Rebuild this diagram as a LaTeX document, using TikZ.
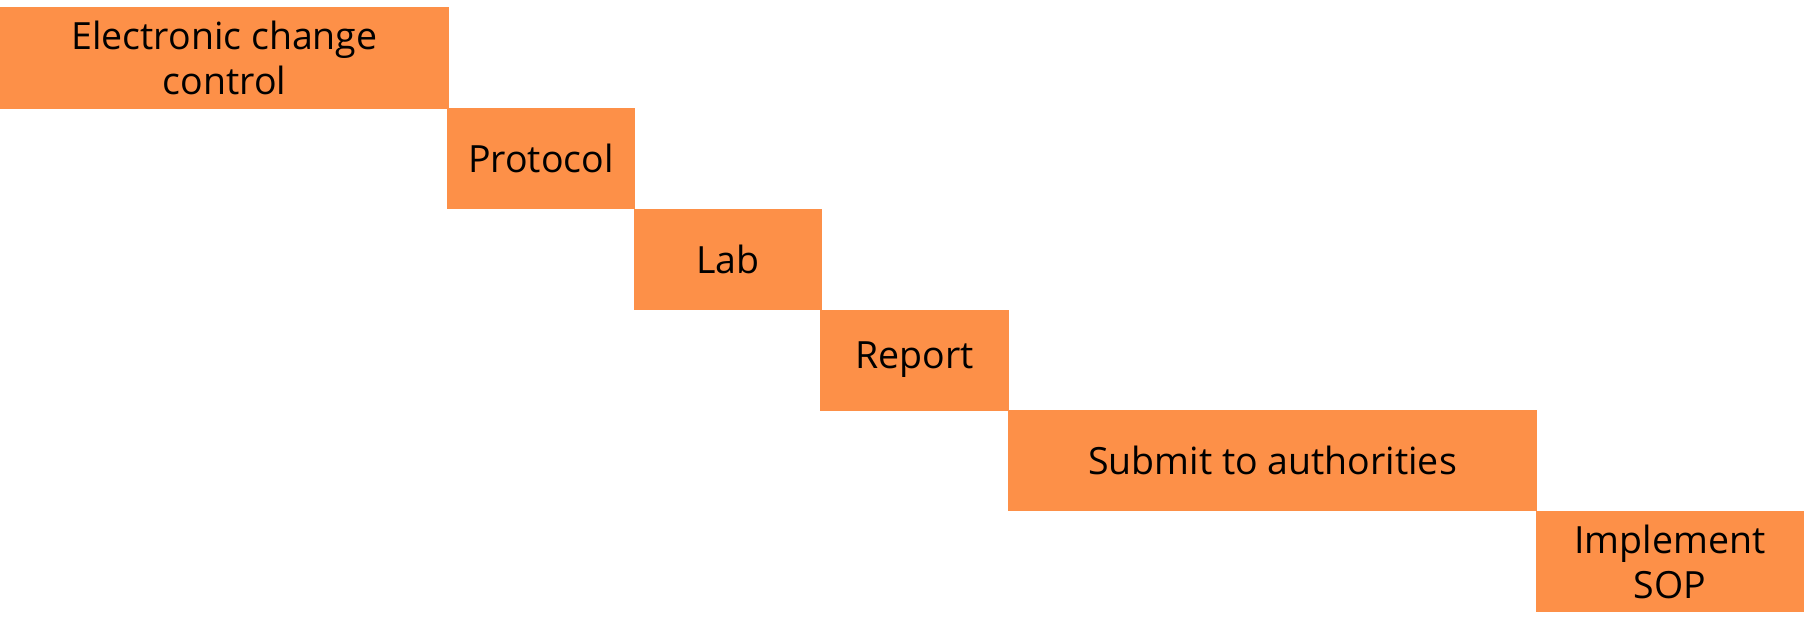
\documentclass[tikz,border=0pt]{standalone}
\usepackage{fontspec}
\setmainfont{Open Sans}
\definecolor{boxorange}{RGB}{253,144,72}
\begin{document}
\begin{tikzpicture}[x=1pt,y=-1pt,
  stage/.style={fill=boxorange, draw=none, inner sep=0pt, outer sep=0pt, anchor=north west,
    align=center, text=black, font=\fontsize{37.5}{45}\selectfont}]
\useasboundingbox (0,0) rectangle (1804,629);
\node[stage, minimum width=449pt, minimum height=102pt] (n1) at (0,7) {Electronic change\\control};
\node[stage, minimum width=188pt, minimum height=101pt] (n2) at (447,108) {Protocol};
\node[stage, minimum width=188pt, minimum height=101pt] (n3) at (634,208.5) {Lab};
\node[stage, minimum width=189pt, minimum height=101pt] (n4) at (820,309.5) {Report};
\node[stage, minimum width=529pt, minimum height=101pt] (n5) at (1008,410) {Submit to authorities};
\node[stage, minimum width=268pt, minimum height=101pt] (n6) at (1536,511) {Implement\\SOP};
\end{tikzpicture}
\end{document}
